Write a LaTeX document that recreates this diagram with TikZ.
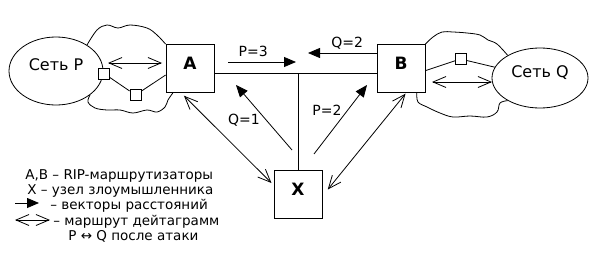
\documentclass[tikz,border=0pt]{standalone}
\usepackage{fontspec}
\setmainfont{DejaVu Sans}
\usetikzlibrary{arrows.meta,shapes.geometric}

\tikzset{
    box/.style={draw, minimum size=48pt, inner sep=0pt, text depth=10pt,
        font=\fontsize{17}{17}\selectfont\bfseries},
    net/.style={draw, ellipse, inner sep=0pt, text depth=13pt,
        font=\fontsize{16}{16}\selectfont},
    port/.style={draw, fill=white, minimum size=11pt, inner sep=0pt},
    lbl/.style={font=\fontsize{14}{16}\selectfont, inner sep=0pt},
    legend/.style={font=\fontsize{13.5}{15}\selectfont, inner sep=0pt, anchor=base west},
    vec/.style={-{Triangle[length=12pt,width=10pt]}},
    route/.style={{Straight Barb[length=13pt,width=11pt]}-{Straight Barb[length=13pt,width=11pt]}},
}

\begin{document}
\begin{tikzpicture}[x=1pt, y=-1pt, line width=0.8pt]
    \useasboundingbox (0,0) rectangle (595,265);

    \node[net, minimum width=94pt, minimum height=68pt] (P) at (56,71) {Сеть P};
    \node[net, minimum width=96pt, minimum height=60pt] (Q) at (540,78) {Сеть Q};
    \node[box] (A) at (190,68.5) {A};
    \node[box] (B) at (401,68.5) {B};
    \node[box] (X) at (298,194) {X};

    % clouds round the local networks
    \draw plot[smooth, tension=0.6] coordinates {(P.40) (97,30) (107,25) (118,28) (130,25)
        (147,28) (157,35) (A.north west)};
    \draw plot[smooth, tension=0.6] coordinates {(A.-125) (168,100) (165,107) (157,112)
        (147,110) (133,113) (120,110) (107,110) (95,108) (88,102) (P.-35)};
    \draw plot[smooth, tension=0.6] coordinates {(B.north east) (433,37) (442,32) (453,32)
        (467,33) (480,35) (488,40) (497,44) (Q.145)};
    \draw plot[smooth, tension=0.6] coordinates {(B.-57) (418,102) (427,107) (440,113)
        (453,117) (470,116) (487,117) (497,112) (500,103) (Q.-145)};

    \draw (B.-5) -- (460.5,59) coordinate (qc) -- (Q);
    \node[port] (q1) at (qc) {};
    \node[port] (p1) at (104,73.5) {};
    \node[port] (p2) at (135.5,95) {};
    \draw (p1) -- (p2) -- (A.195);

    \coordinate (J) at (298,73);
    \draw (A.east |- J) -- (B.west |- J);
    \draw (J) -- (X.north);

    % distance vectors
    \coordinate (p3s) at (228,62);
    \coordinate (p3e) at (296,62);
    \coordinate (q2e) at (308,53);
    \coordinate (q1s) at (292,150);
    \coordinate (q1e) at (236,85);
    \coordinate (p2s) at (314,154);
    \coordinate (p2e) at (367,85);
    \path[every node/.style={lbl}]
    (p3s) [vec] edge node [pos=.37, above=5pt] {P=3} (p3e)
    (B.west |- q2e) [vec] edge node [pos=.43, above=3pt] {Q=2} (q2e)
    (q1s) [vec] edge node [pos=.46, left=6pt] {Q=1} (q1e)
    (p2s) [vec] edge node [pos=.64, left=6pt] {P=2} (p2e);

    % datagram routes
    \coordinate (rp1) at (108,63);
    \coordinate (rp2) at (162,63);
    \coordinate (rq1) at (432,82);
    \coordinate (rq2) at (492,82);
    \draw[route] (rp1) -- (rp2);
    \draw[route] (rq1) -- (rq2);
    \draw[route, shorten <=4pt, shorten >=3pt] (A.250) -- (X.160);
    \draw[route, shorten <=1pt, shorten >=8.5pt] (B.-78) -- (X.-5);

    % legend
    \node[legend] (L1) at (25,179) {A,B – RIP-маршрутизаторы};
    \node[legend] (L2) at (27,194) {X – узел злоумышленника};
    \node[legend] (L3) at (50,209) {– векторы расстояний};
    \node[legend] (L4) at (53,225) {– маршрут дейтаграмм};
    \node[legend] (L5) at (68,240) {P ↔ Q после атаки};
    \coordinate (k1) at (15,203);
    \coordinate (k2) at (39,203);
    \coordinate (k3) at (15,220);
    \coordinate (k4) at (50,220);
    \draw[vec] (k1) -- (k2);
    \draw[route] (k3) -- (k4);
\end{tikzpicture}
\end{document}
